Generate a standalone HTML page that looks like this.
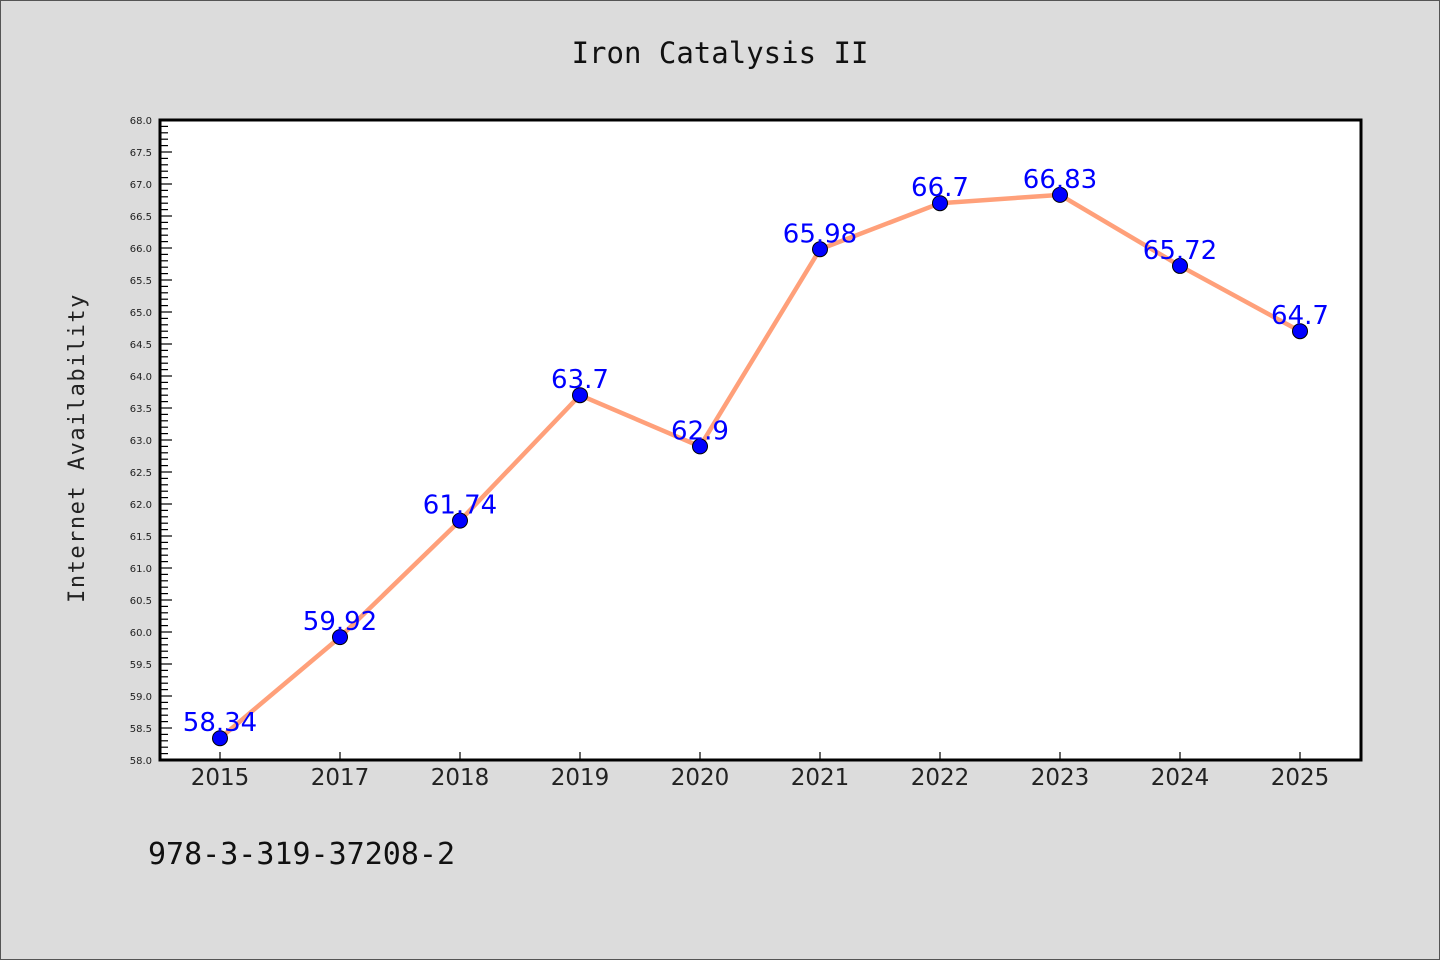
<!DOCTYPE html>
<html><head><meta charset="utf-8"><style>
html,body{margin:0;padding:0;background:#dcdcdc;}
svg{display:block;font-family:"DejaVu Sans","Liberation Sans",sans-serif;}
</style></head><body>
<svg id="chart" width="1440" height="960" viewBox="0 0 1440 960">
<rect x="0.5" y="0.5" width="1439" height="959" fill="#dcdcdc" stroke="#555"/>
<text x="720" y="63" text-anchor="middle" font-size="29" fill="#111" font-family="DejaVu Sans Mono, monospace">Iron Catalysis II</text>
<rect x="160" y="120" width="1201" height="640" fill="#fff"/>
<g id="axes"></g>
<g id="series"></g>
<rect x="160" y="120" width="1201" height="640" fill="none" stroke="#000" stroke-width="3"/>
<text transform="translate(84,448) rotate(-90)" text-anchor="middle" font-size="22" fill="#222" font-family="DejaVu Sans Mono, monospace" letter-spacing="1.5">Internet Availability</text>
<text x="148" y="864" font-size="30" fill="#111" font-family="DejaVu Sans Mono, monospace">978-3-319-37208-2</text>
</svg>
<script>
const categories = ["2015","2017","2018","2019","2020","2021","2022","2023","2024","2025"];
const values = [58.34,59.92,61.74,63.7,62.9,65.98,66.7,66.83,65.72,64.7];
const labels = ["58.34","59.92","61.74","63.7","62.9","65.98","66.7","66.83","65.72","64.7"];
const yTicks = ["58.0","58.5","59.0","59.5","60.0","60.5","61.0","61.5","62.0","62.5","63.0","63.5","64.0","64.5","65.0","65.5","66.0","66.5","67.0","67.5","68.0"];
const yMin = 58, yMax = 68;
const NS = "http://www.w3.org/2000/svg";
const x = i => 220 + i * 120;
const y = v => 760 - (v - yMin) / (yMax - yMin) * 640;
function mk(tag, attrs, parent){const e=document.createElementNS(NS,tag);for(const k in attrs)e.setAttribute(k,attrs[k]);parent.appendChild(e);return e;}
const axes = document.getElementById('axes');
for (let k = 0; k <= 100; k++) {
  const v = yMin + k * 0.1; const yy = y(v); const major = k % 5 === 0;
  const t = mk('line',{x1:160,x2:160+(major?12:8),y1:yy,y2:yy,stroke:'#000','stroke-width':1.2},axes);
  
  
}
yTicks.forEach(s => {
  const t = mk('text',{x:152,y:y(parseFloat(s))+4,'text-anchor':'end','font-size':10,fill:'#222'},axes);
  t.textContent = s;
  
  
});
categories.forEach((c,i) => {
  const t = mk('line',{x1:x(i),x2:x(i),y1:760,y2:752,stroke:'#000','stroke-width':1.2},axes);
  
  
  const l = mk('text',{x:x(i),y:785,'text-anchor':'middle','font-size':23,fill:'#222'},axes);
  l.textContent = c;
  
  
});
const g = document.getElementById('series');
const line = mk('polyline',{points:values.map((v,i)=>x(i)+','+y(v)).join(' '),fill:'none',stroke:'#ffa07a','stroke-width':4.5,'stroke-linejoin':'round'},g);


values.forEach((v,i) => {
  const c = mk('circle',{cx:x(i),cy:y(v),r:7.5,fill:'#0000ff',stroke:'#000','stroke-width':1},g);
  
  
  const t = mk('text',{x:x(i),y:y(v)-7,'text-anchor':'middle','font-size':26,fill:'#0000ff'},g);
  t.textContent = labels[i];
  
  
});
</script>
</body></html>
